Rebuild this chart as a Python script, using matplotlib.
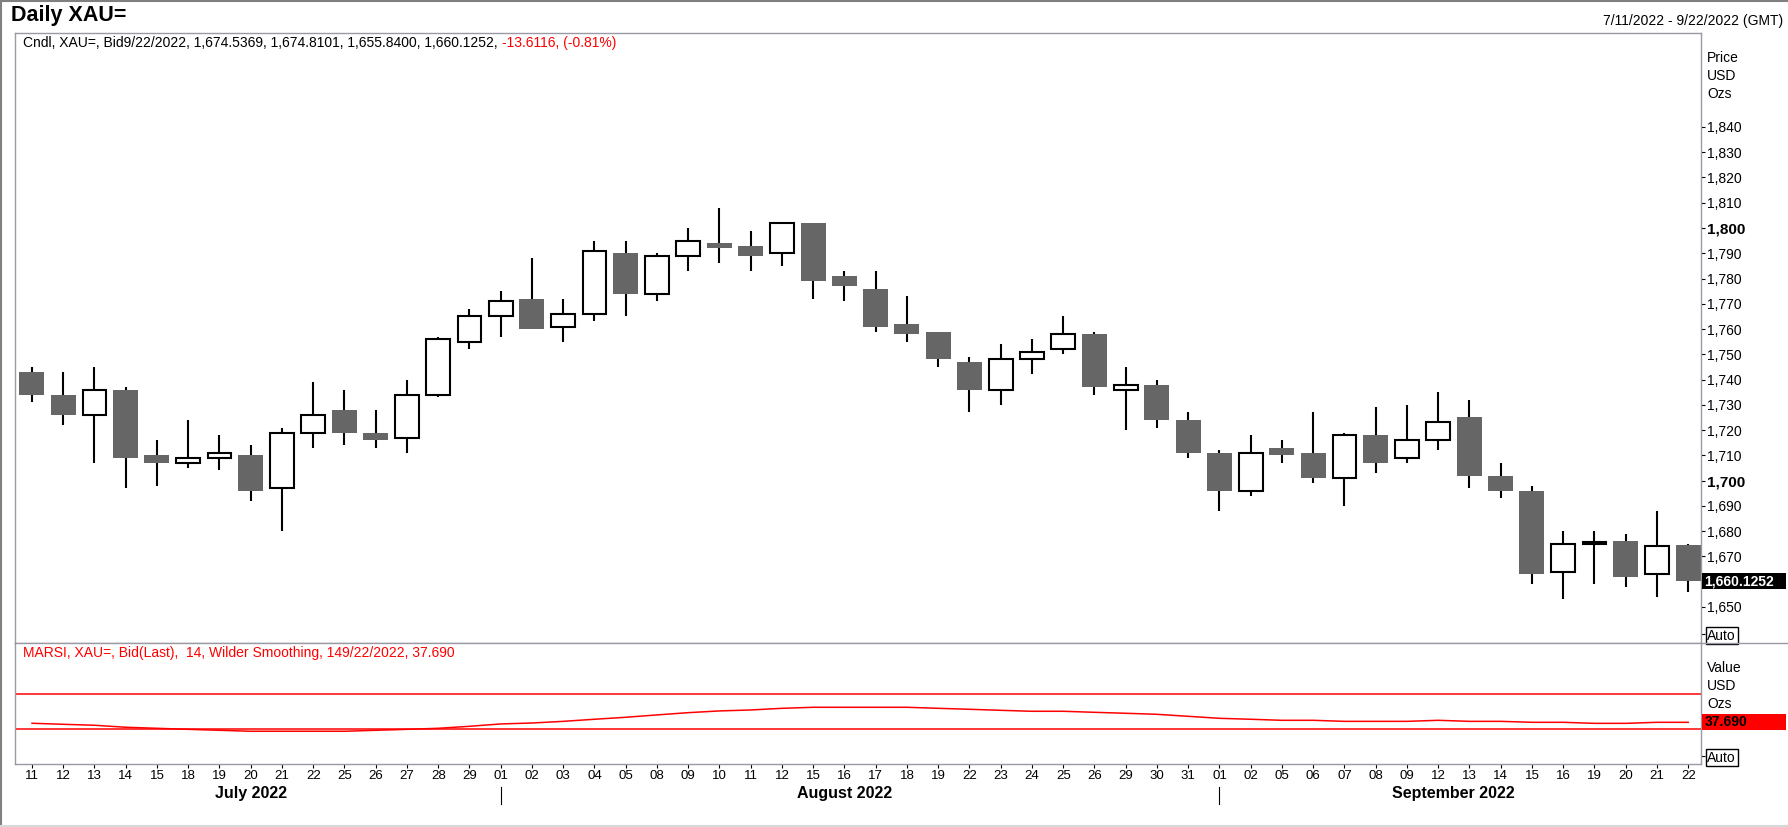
import numpy as np
import matplotlib
matplotlib.use('Agg')
from matplotlib import pyplot as plt
from matplotlib import transforms
from matplotlib.patches import Rectangle
from matplotlib.lines import Line2D

plt.rcParams['font.family'] = ['Liberation Sans', 'DejaVu Sans']

# --- data ---
days = ['11', '12', '13', '14', '15', '18', '19', '20', '21', '22', '25', '26', '27', '28', '29',
        '01', '02', '03', '04', '05', '08', '09', '10', '11', '12', '15', '16', '17', '18', '19',
        '22', '23', '24', '25', '26', '29', '30', '31',
        '01', '02', '05', '06', '07', '08', '09', '12', '13', '14', '15', '16', '19', '20', '21', '22']
months = ['July 2022', 'August 2022', 'September 2022']
month_len = [15, 23, 16]

opens = [1743, 1734, 1726, 1736, 1710, 1707, 1709, 1710, 1697, 1719, 1728, 1719, 1717, 1734, 1755,
         1765, 1772, 1761, 1766, 1790, 1774, 1789, 1794, 1793, 1790, 1802, 1781, 1776, 1762, 1759,
         1747, 1736, 1748, 1752, 1758, 1736, 1738, 1724,
         1711, 1696, 1713, 1711, 1701, 1718, 1709, 1716, 1725, 1702, 1696, 1664, 1675, 1676, 1663, 1674.5369]
highs = [1745, 1743, 1745, 1737, 1716, 1724, 1718, 1714, 1721, 1739, 1736, 1728, 1740, 1757, 1768,
         1775, 1788, 1772, 1795, 1795, 1790, 1800, 1808, 1799, 1802, 1802, 1783, 1783, 1773, 1759,
         1749, 1754, 1756, 1765, 1759, 1745, 1740, 1727,
         1712, 1718, 1716, 1727, 1719, 1729, 1730, 1735, 1732, 1707, 1698, 1680, 1680, 1679, 1688, 1674.8101]
lows = [1731, 1722, 1707, 1697, 1698, 1705, 1704, 1692, 1680, 1713, 1714, 1713, 1711, 1733, 1752,
        1757, 1760, 1755, 1763, 1765, 1771, 1783, 1786, 1783, 1785, 1772, 1771, 1759, 1755, 1745,
        1727, 1730, 1742, 1750, 1734, 1720, 1721, 1709,
        1688, 1694, 1707, 1699, 1690, 1703, 1707, 1712, 1697, 1693, 1659, 1653, 1659, 1658, 1654, 1655.84]
closes = [1734, 1726, 1736, 1709, 1707, 1709, 1711, 1696, 1719, 1726, 1719, 1716, 1734, 1756, 1765,
          1771, 1760, 1766, 1791, 1774, 1789, 1795, 1792, 1789, 1802, 1779, 1777, 1761, 1758, 1748,
          1736, 1748, 1751, 1758, 1737, 1738, 1724, 1711,
          1696, 1711, 1710, 1701, 1718, 1707, 1716, 1723, 1702, 1696, 1663, 1675, 1675.5, 1662, 1674, 1660.1252]

rsi = [36.6, 35.4, 34.3, 32.0, 30.8, 29.6, 28.5, 27.4, 27.4, 27.4,
       27.4, 28.5, 29.6, 30.8, 33.1, 35.8, 36.9, 38.8, 41.2, 43.5,
       46.2, 48.8, 50.8, 51.9, 53.8, 55.0, 55.0, 55.0, 55.0, 53.8,
       52.7, 51.5, 50.4, 50.4, 49.2, 48.1, 46.9, 44.6, 42.3, 41.2,
       40.0, 40.0, 38.8, 38.8, 38.8, 40.0, 38.8, 38.8, 37.7, 37.7,
       36.5, 36.5, 37.7, 37.69]
rsi_upper = 70
rsi_lower = 30

price_ticks = list(range(1650, 1841, 10))

# --- layout in pixels ---
W, H = 1788, 827
LEFT, RIGHT = 15, 1701
TOP, MID, BOTTOM = 33, 643, 764
GRID = '#9a9aa4'


def fx(px):
    return px / W


def fy(px):
    return 1 - px / H


fig = plt.figure(figsize=(W / 100, H / 100), dpi=100)
ax = fig.add_axes([fx(LEFT), fy(MID), (RIGHT - LEFT) / W, (MID - TOP) / H])
ax2 = fig.add_axes([fx(LEFT), fy(BOTTOM), (RIGHT - LEFT) / W, (BOTTOM - MID) / H])

x = np.arange(len(days))
o = np.array(opens)
c = np.array(closes)
up = c >= o
lo = np.minimum(o, c)
hgt = np.abs(c - o)

# candles
ax.vlines(x, lows, highs, color='black', lw=1.5, zorder=1)
ax.bar(x[up], hgt[up], 0.76, bottom=lo[up], facecolor='white', edgecolor='black', linewidth=1.5, zorder=2)
ax.bar(x[~up], hgt[~up], 0.8, bottom=lo[~up], color='#666666', linewidth=0, zorder=2)

xlim = (-0.544, 53.41)
ax.set_xlim(*xlim)
ylim = (1635.7, 1877.2)
ax.set_ylim(*ylim)
ppu = (MID - TOP) / (ylim[1] - ylim[0])

# the last-price box hides the tick under it
shown = [t for t in price_ticks if abs(t - closes[-1]) > 5]
ax.yaxis.tick_right()
auto_y = ylim[0] + (MID - 634) / ppu
ax.set_yticks(shown + [auto_y])
ax.set_yticklabels([f'{t:,}' for t in shown] + ['Auto'])
ax.tick_params(axis='y', direction='out', length=3, width=0.8, pad=1.5, labelsize=10, colors='black')
ax.tick_params(axis='x', bottom=False, labelbottom=False)
labs = ax.get_yticklabels()
for lab, t in zip(labs, shown):
    if t in (1700, 1800):
        lab.set_fontweight('bold')
        lab.set_fontsize(11)
labs[-1].set_bbox(dict(boxstyle='square,pad=0.12', fc='white', ec='black', lw=1))
for s in ax.spines.values():
    s.set_color(GRID)
    s.set_linewidth(1)

# last price box
blend = transforms.blended_transform_factory(ax.transAxes, ax.transData)
bh = 16 / ppu
ax.add_patch(Rectangle((1.0005, closes[-1] - bh / 2), 84 / (RIGHT - LEFT), bh, transform=blend,
                       fc='black', ec='none', clip_on=False, zorder=5))
ax.text(1.002, closes[-1], f'{closes[-1]:,.4f}', transform=blend, color='white', fontweight='bold',
        fontsize=10, va='center', ha='left', clip_on=False, zorder=6)

# RSI panel
ax2.plot(x, rsi, color='red', lw=1.1)
ax2.axhline(rsi_upper, color='red', lw=1.1)
ax2.axhline(rsi_lower, color='red', lw=1.1)
ax2.set_xlim(*xlim)
r_ylim = (-10.3, 129)
ax2.set_ylim(*r_ylim)
rppu = (BOTTOM - MID) / (r_ylim[1] - r_ylim[0])
ax2.yaxis.tick_right()
ax2.set_yticks([r_ylim[0] + (BOTTOM - 756) / rppu])
ax2.set_yticklabels(['Auto'])
ax2.get_yticklabels()[0].set_bbox(dict(boxstyle='square,pad=0.12', fc='white', ec='black', lw=1))
ax2.tick_params(axis='y', direction='out', length=3, width=0.8, pad=1.5, labelsize=10, colors='black')
ax2.set_xticks(x)
ax2.set_xticklabels(days)
ax2.tick_params(axis='x', direction='out', length=3, width=0.8, pad=1.5, labelsize=9.5)
for s in ax2.spines.values():
    s.set_color(GRID)
    s.set_linewidth(1)

rblend = transforms.blended_transform_factory(ax2.transAxes, ax2.transData)
rh = 16 / rppu
ax2.add_patch(Rectangle((1.0005, rsi[-1] - rh / 2), 84 / (RIGHT - LEFT), rh, transform=rblend,
                        fc='red', ec='none', clip_on=False, zorder=5))
ax2.text(1.002, rsi[-1], f'{rsi[-1]:.3f}', transform=rblend, color='black', fontweight='bold',
         fontsize=10, va='center', ha='left', clip_on=False, zorder=6)

# month labels and dividers
xb = transforms.blended_transform_factory(ax2.transData, ax2.transAxes)
start = 0
for m, n in zip(months, month_len):
    ax2.text(start + (n - 1) / 2, -0.24, m, transform=xb, ha='center', va='center',
             fontweight='bold', fontsize=11.5)
    if start > 0:
        ax2.plot([start, start], [-0.19, -0.33], transform=xb, color='black', lw=0.8, clip_on=False)
    start += n

# header texts
fig.text(fx(11), fy(16), 'Daily XAU=', fontsize=15.5, fontweight='bold', va='center', ha='left')
fig.text(fx(1783), fy(21), '7/11/2022 - 9/22/2022 (GMT)', fontsize=10, va='center', ha='right')
t1 = fig.text(fx(23), fy(43), 'Cndl, XAU=, Bid9/22/2022, 1,674.5369, 1,674.8101, 1,655.8400, 1,660.1252, ',
              fontsize=10, va='center', ha='left')
ax.annotate('-13.6116, (-0.81%)', xy=(1, 0), xycoords=t1, va='bottom', ha='left',
            fontsize=10, color='red', annotation_clip=False)
fig.text(fx(23), fy(653), 'MARSI, XAU=, Bid(Last),  14, Wilder Smoothing, 149/22/2022, 37.690',
         fontsize=10, color='red', va='center', ha='left')

for i, s in enumerate(['Price', 'USD', 'Ozs']):
    fig.text(fx(1707), fy(58 + 18 * i), s, fontsize=10, va='center', ha='left')
for i, s in enumerate(['Value', 'USD', 'Ozs']):
    fig.text(fx(1707), fy(668 + 18 * i), s, fontsize=10, va='center', ha='left')

# separator between panels runs to the right edge, frame lines
fig.add_artist(Line2D([fx(RIGHT), 1], [fy(MID), fy(MID)], color=GRID, lw=1))
fig.add_artist(Line2D([0, 1], [1 - 1 / H, 1 - 1 / H], color='#808080', lw=1.5))
fig.add_artist(Line2D([1 / W, 1 / W], [0, 1], color='#808080', lw=1.5))
fig.add_artist(Line2D([0, 1], [1 / H, 1 / H], color='#d8d8d8', lw=1.5))

fig.savefig('out.png', dpi=100)
